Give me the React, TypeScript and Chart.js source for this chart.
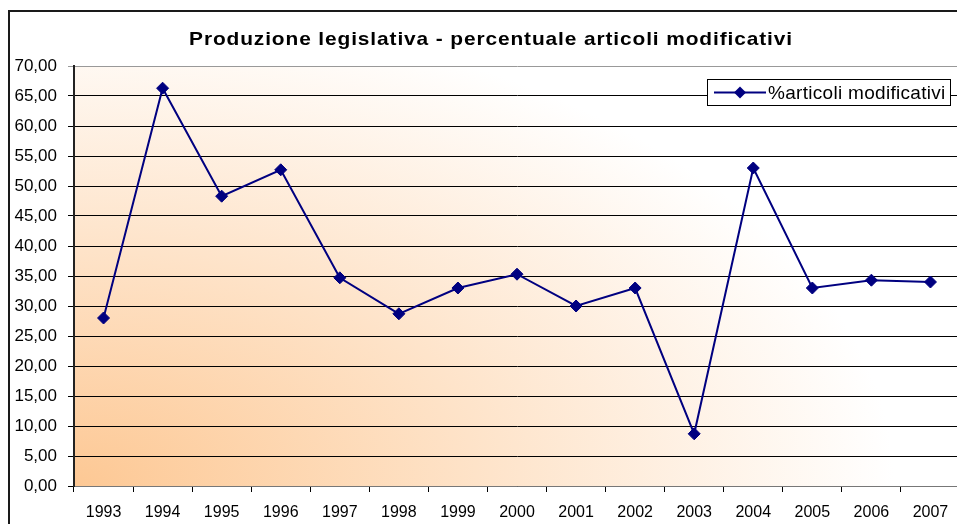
import React, { useEffect, useRef } from 'react';
import { Chart, registerables } from 'chart.js';

Chart.register(...registerables);

const years = ['1993', '1994', '1995', '1996', '1997', '1998', '1999', '2000', '2001', '2002', '2003', '2004', '2005', '2006', '2007'];
const modificativi = [28.0, 66.3, 48.3, 52.7, 34.7, 28.7, 33.0, 35.3, 30.0, 33.0, 8.7, 53.0, 33.0, 34.3, 34.0];
const seriesLabel = '%articoli modificativi';
const titleText = 'Produzione legislativa - percentuale articoli modificativi';
const yMin = 0;
const yMax = 70;
const yStep = 5;

const FONT = 'Arial, "Liberation Sans", sans-serif';
const NAVY = '#000080';

const decorPlugin = {
  id: 'decor',
  beforeDraw(chart: any) {
    const { ctx, chartArea } = chart;
    const W = chart.width;
    const H = chart.height;
    ctx.save();
    ctx.fillStyle = '#ffffff';
    ctx.fillRect(0, 0, W, H);
    // outer border
    ctx.strokeStyle = '#1a1a1a';
    ctx.lineWidth = 2;
    ctx.strokeRect(9, 11, W + 50, H + 50);
    // plot area gradient
    const { left, right, top, bottom } = chartArea;
    const rx = 820;
    const ry = 480;
    ctx.save();
    ctx.beginPath();
    ctx.rect(left, top, right - left, bottom - top);
    ctx.clip();
    ctx.translate(left, bottom);
    ctx.scale(rx, ry);
    const g = ctx.createRadialGradient(0, 0, 0, 0, 0, 1);
    g.addColorStop(0, 'rgb(253,200,148)');
    g.addColorStop(1, 'rgb(255,255,255)');
    ctx.fillStyle = g;
    ctx.fillRect(0, -(bottom - top) / ry - 0.01, (right - left) / rx + 0.01, (bottom - top) / ry + 0.02);
    ctx.restore();
    // title
    ctx.save();
    ctx.fillStyle = '#000';
    ctx.font = `bold 19px ${FONT}`;
    ctx.textAlign = 'center';
    ctx.textBaseline = 'middle';
    (ctx as any).letterSpacing = '0.8px';
    ctx.translate(491, 40);
    ctx.scale(1.1, 1);
    ctx.fillText(titleText, 0, 0);
    ctx.restore();
    ctx.restore();
  },
  afterDatasetsDraw(chart: any) {
    const { ctx } = chart;
    ctx.save();
    const bx = 707.5, by = 79.5, bw = 243, bh = 26;
    ctx.fillStyle = '#ffffff';
    ctx.fillRect(bx, by, bw, bh);
    ctx.strokeStyle = '#000';
    ctx.lineWidth = 1;
    ctx.strokeRect(bx, by, bw, bh);
    const cy = by + bh / 2;
    ctx.strokeStyle = NAVY;
    ctx.lineWidth = 2;
    ctx.beginPath();
    ctx.moveTo(714, cy);
    ctx.lineTo(766, cy);
    ctx.stroke();
    ctx.fillStyle = NAVY;
    ctx.beginPath();
    ctx.moveTo(740, cy - 6);
    ctx.lineTo(746, cy);
    ctx.lineTo(740, cy + 6);
    ctx.lineTo(734, cy);
    ctx.closePath();
    ctx.fill();
    ctx.fillStyle = '#000';
    ctx.font = `19px ${FONT}`;
    ctx.textAlign = 'left';
    ctx.textBaseline = 'middle';
    (ctx as any).letterSpacing = '0.3px';
    ctx.fillText(seriesLabel, 768, cy + 1);
    ctx.restore();
  },
};

export default function App() {
  const ref = useRef<HTMLCanvasElement | null>(null);
  useEffect(() => {
    document.body.style.margin = '0';
    const canvas = ref.current;
    if (!canvas) return;
    const chart = new Chart(canvas, {
      type: 'line',
      data: {
        labels: years,
        datasets: [
          {
            label: seriesLabel,
            data: modificativi,
            borderColor: NAVY,
            backgroundColor: NAVY,
            borderWidth: 2,
            pointStyle: 'rectRot',
            pointRadius: 6,
            pointBackgroundColor: NAVY,
            pointBorderColor: NAVY,
            pointBorderWidth: 1,
            tension: 0,
          },
        ],
      },
      options: {
        responsive: false,
        animation: false,
        devicePixelRatio: 1,
        layout: { padding: { top: 66, right: 15, bottom: 0, left: 0 } },
        plugins: {
          legend: { display: false },
          title: { display: false },
          tooltip: { enabled: false },
        },
        scales: {
          x: {
            type: 'category',
            offset: true,
            grid: {
              drawOnChartArea: false,
              offset: true,
              drawTicks: true,
              tickLength: 6,
              color: '#000',
            },
            border: { display: true, color: '#777', width: 1 },
            ticks: {
              color: '#000',
              font: { family: FONT, size: 16 },
              padding: 11,
              autoSkip: false,
              maxRotation: 0,
            },
            afterFit(scale: any) {
              scale.height = 38;
            },
          },
          y: {
            min: yMin,
            max: yMax,
            grid: {
              color: (c: any) => (c.tick && c.tick.value === yMax ? '#999' : '#000'),
              lineWidth: 1,
              tickLength: 6,
              drawTicks: true,
            },
            border: { display: true, color: '#222', width: 2 },
            ticks: {
              stepSize: yStep,
              color: '#000',
              font: { family: FONT, size: 17 },
              padding: 11,
              callback: (v: any) => Number(v).toFixed(2).replace('.', ','),
            },
            afterFit(scale: any) {
              scale.width = 74;
            },
          },
        },
      },
      plugins: [decorPlugin],
    });
    return () => chart.destroy();
  }, []);
  return (
    <div style={{ position: 'absolute', left: 0, top: 0, width: 957, height: 524, overflow: 'hidden' }}>
      <canvas ref={ref} width={975} height={524} style={{ display: 'block' }} />
    </div>
  );
}
